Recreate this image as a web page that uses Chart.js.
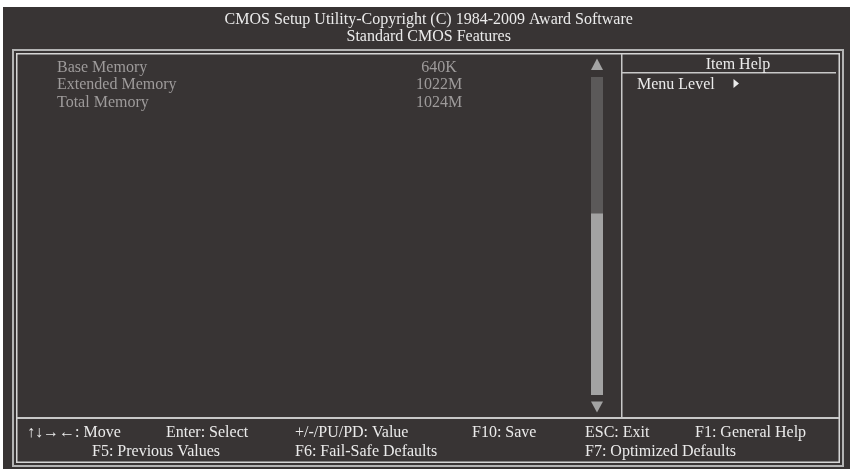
<!DOCTYPE html>
<html>
<head>
<meta charset="utf-8">
<script src="https://cdn.jsdelivr.net/npm/chart.js@4.4.0/dist/chart.umd.min.js"></script>
<style>
  html, body { margin: 0; padding: 0; background: #ffffff; }
  #wrap { width: 850px; height: 469px; }
</style>
</head>
<body>
<div id="wrap"><canvas id="bios" width="850" height="469"></canvas></div>
<script>
// screen texts
const titleLines = ['CMOS Setup Utility-Copyright (C) 1984-2009 Award Software', 'Standard CMOS Features'];
const itemNames = ['Base Memory', 'Extended Memory', 'Total Memory'];
const itemValues = ['640K', '1022M', '1024M'];
const helpTitle = 'Item Help';
const helpLine = 'Menu Level';
const footerRow1 = ['\u2191\u2193\u2192\u2190: Move', 'Enter: Select', '+/-/PU/PD: Value', 'F10: Save', 'ESC: Exit', 'F1: General Help'];
const footerRow2 = ['F5: Previous Values', 'F6: Fail-Safe Defaults', 'F7: Optimized Defaults'];

// scroll bar (percent of the list)
const scrollLabels = ['list'];
const scrollTrack = [[0, 100]];
const scrollThumb = [[43, 100]];

const FONT = '16px "Liberation Serif", "Times New Roman", serif';
const BG = '#383434';
const TXT = '#ebebeb';
const DIM = '#9e9b9b';

// layout of footer columns
const foot1X = [27, 166, 295, 472, 585, 695];
const foot2X = [92, 295, 585];

function tri(c, x1, x2, yTop, yBot, up) {
  c.beginPath();
  if (up) {
    c.moveTo((x1 + x2) / 2, yTop); c.lineTo(x2, yBot); c.lineTo(x1, yBot);
  } else {
    c.moveTo(x1, yTop); c.lineTo(x2, yTop); c.lineTo((x1 + x2) / 2, yBot);
  }
  c.closePath();
  c.fill();
}

const biosFrame = {
  id: 'biosFrame',
  beforeDraw(chart) {
    const c = chart.ctx;
    c.save();
    c.fillStyle = '#ffffff';
    c.fillRect(0, 0, 850, 469);
    c.fillStyle = BG;
    c.fillRect(3, 7, 847, 462);

    // double frame
    c.strokeStyle = '#b4b4b4';
    c.lineWidth = 2;
    c.strokeRect(13, 50, 830, 416);
    c.strokeStyle = '#d6d6d6';
    c.lineWidth = 1.5;
    c.strokeRect(16.75, 53.75, 822.5, 408.5);

    // dividers
    c.lineWidth = 2;
    c.strokeStyle = '#c8c8c8';
    c.beginPath();
    c.moveTo(17, 418); c.lineTo(839, 418);
    c.stroke();
    c.lineWidth = 1.5;
    c.beginPath();
    c.moveTo(621.75, 54); c.lineTo(621.75, 417);
    c.moveTo(622, 72.75); c.lineTo(836, 72.75);
    c.stroke();

    c.font = FONT;
    c.textBaseline = 'alphabetic';

    // title
    c.fillStyle = TXT;
    c.textAlign = 'center';
    c.fillText(titleLines[0], 428.7, 24);
    c.fillText(titleLines[1], 428.7, 41);

    // help pane
    c.fillText(helpTitle, 738, 69);
    c.textAlign = 'left';
    c.fillText(helpLine, 637, 88.5);
    c.beginPath();
    c.moveTo(733.5, 79); c.lineTo(739, 83.5); c.lineTo(733.5, 88);
    c.closePath();
    c.fill();

    // footer
    footerRow1.forEach((t, i) => c.fillText(t, foot1X[i], 437));
    footerRow2.forEach((t, i) => c.fillText(t, foot2X[i], 455.7));

    // item rows placed on the rows scale
    const rows = chart.scales.rows;
    c.fillStyle = DIM;
    itemNames.forEach((name, i) => {
      const y = rows.getPixelForValue(i);
      c.textAlign = 'left';
      c.fillText(name, 57, y);
      c.textAlign = 'center';
      c.fillText(itemValues[i], 439, y);
    });

    // scroll arrows
    const area = chart.chartArea;
    c.fillStyle = '#a3a3a3';
    tri(c, area.left, area.right, 58.5, 70, true);
    tri(c, area.left, area.right, 401.5, 412.5, false);
    c.restore();
  }
};

const ctx = document.getElementById('bios');
const biosChart = new Chart(ctx, {
  type: 'bar',
  data: {
    labels: scrollLabels,
    datasets: [
      { data: scrollThumb, backgroundColor: '#a3a3a3', grouped: false, order: 0, barPercentage: 1, categoryPercentage: 1 },
      { data: scrollTrack, backgroundColor: '#5b5959', grouped: false, order: 1, barPercentage: 1, categoryPercentage: 1 }
    ]
  },
  options: {
    responsive: false,
    animation: false,
    devicePixelRatio: 1,
    layout: { padding: { left: 591, right: 247, top: 77, bottom: 74 } },
    scales: {
      x: { display: false },
      y: { display: false, min: 0, max: 100, reverse: true },
      rows: { type: 'linear', axis: 'y', display: false, min: 0.3, max: 18.16, reverse: true }
    },
    plugins: {
      legend: { display: false },
      tooltip: { enabled: false }
    }
  },
  plugins: [biosFrame]
});
</script>
</body>
</html>
